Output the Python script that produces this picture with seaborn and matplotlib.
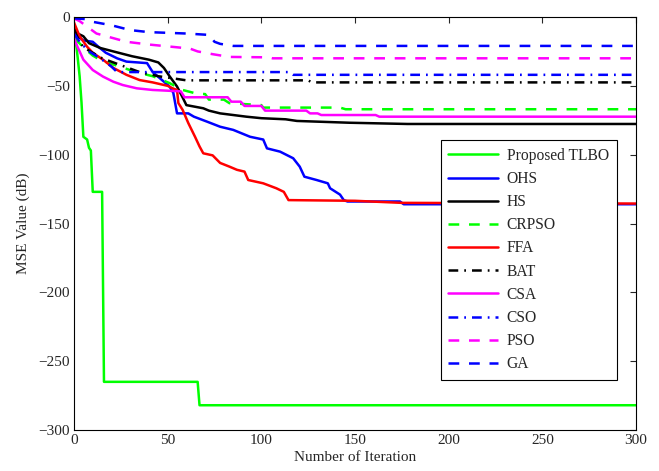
import matplotlib
matplotlib.use("Agg")
import matplotlib.pyplot as plt
import seaborn as sns
import pandas as pd

# Convergence curves: best MSE (dB) versus iteration, as breakpoints
tlbo_x = [0, 1, 2, 3, 4, 5, 7, 8, 9, 10, 15, 16, 66, 67, 300]
tlbo_y = [-8, -18, -30, -43, -62, -87, -89, -95, -97, -127, -127, -265, -265, -282, -282]

ohs_x = [0, 3, 5, 10, 13, 17, 23, 28, 39, 42, 51, 53, 55, 61, 64, 71, 78, 85, 94, 101, 103,
         110, 117, 120.5, 123, 129.5, 135.5, 136.7, 142, 144, 146, 174, 176, 300]
ohs_y = [-12, -15, -17, -18, -21.6, -26, -30, -32.4, -33.5, -40, -50.5, -55, -70, -70, -72.4,
         -76, -79.7, -82, -87, -89, -95.4, -97.8, -102.6, -108.7, -116, -118.4, -120.8,
         -124.4, -129, -133, -134, -134, -136, -136]

hs_x = [0, 2, 5, 8, 14, 21, 31, 40, 45, 48, 51, 55, 58, 60, 69, 72, 78, 92, 100, 113, 119,
        147, 178, 300]
hs_y = [-8, -12, -14, -19, -22.5, -25, -28.5, -31, -33, -37, -43, -50.5, -58.5, -64, -66.3,
        -68, -70, -72.4, -73.5, -74.3, -75.5, -76.8, -77.7, -77.7]

crpso_x = [0, 5, 10, 15, 24.5, 33, 42, 51, 58, 65, 70, 72, 80, 83, 100, 101, 142, 145, 300]
crpso_y = [-15, -22, -28, -32, -36, -40, -43, -48, -53, -55.5, -56, -60, -60, -62.6, -64,
           -65.8, -65.8, -67, -67]

ffa_x = [0, 3, 7, 10, 15.5, 21, 28, 35, 42, 50, 53, 55, 55.7, 58, 61, 64.6, 67, 69, 74, 78,
         83, 87, 91, 93, 101, 108, 112, 114.5, 150, 175, 300]
ffa_y = [-4, -14, -21.6, -26, -31, -37, -42, -45.8, -47.5, -50, -52, -53, -62.5, -67.5, -77,
         -87, -94, -99, -100.5, -106, -108.7, -111, -112.3, -118.4, -120.8, -124.4, -127,
         -133, -133.5, -135, -135.5]

bat_x = [0, 2, 5, 10, 15, 25, 35, 45, 60, 125, 127, 300]
bat_y = [-10, -15, -22, -26, -30, -35, -40, -43, -46, -46, -47.5, -47.5]

csa_x = [0, 1, 5, 10, 15.5, 21, 26, 33.5, 42, 57, 59, 82, 84, 89, 91, 100, 102, 124, 126,
         130, 132, 161, 163, 300]
csa_y = [-15, -19, -31, -38.5, -43.3, -47, -49.4, -51.8, -53, -54, -58.3, -58.3, -61.5,
         -61.5, -64.6, -64.6, -68, -68, -70, -70, -71.2, -71.2, -72.4, -72.4]

cso_x = [0, 3, 8, 14, 20, 23, 115, 117, 300]
cso_y = [-12, -18, -25, -30, -36, -40, -40, -42, -42]

pso_x = [0, 3, 8, 12, 20, 28, 40, 55, 62, 66, 74, 83, 104, 106, 300]
pso_y = [-1, -3, -8, -12, -15, -18, -20, -22, -23, -25, -27, -29, -29.3, -30, -30]

ga_x = [0, 6, 10, 20, 30, 40, 60, 72, 75, 78, 85, 300]
ga_y = [-1, -1.5, -3.5, -6, -9.5, -11, -12, -13, -18, -19.5, -21, -21]

algorithms = ["Proposed TLBO", "OHS", "HS", "CRPSO", "FFA", "BAT", "CSA", "CSO", "PSO", "GA"]
series = [(tlbo_x, tlbo_y), (ohs_x, ohs_y), (hs_x, hs_y), (crpso_x, crpso_y), (ffa_x, ffa_y),
          (bat_x, bat_y), (csa_x, csa_y), (cso_x, cso_y), (pso_x, pso_y), (ga_x, ga_y)]

colors = ["#00ff00", "#0000ff", "#000000", "#00ff00", "#ff0000",
          "#000000", "#ff00ff", "#0000ff", "#ff00ff", "#0000ff"]
dash = (0, (4.3, 3.9))
dashdot = (0, (3.9, 2.4, 0.7, 2.4))
styles = ["-", "-", "-", dash, "-", dashdot, "-", dashdot, dash, dash]

sns.set_style("white")
plt.rcParams["font.family"] = ["Liberation Serif", "DejaVu Serif"]

fig = plt.figure(figsize=(6.59, 4.71), dpi=100)
ax = fig.add_axes([0.1123, 0.0870, 0.8528, 0.8769])

for name, (xs, ys), c, ls in zip(algorithms, series, colors, styles):
    df = pd.DataFrame({"Iteration": xs, "MSE": ys})
    sns.lineplot(data=df, x="Iteration", y="MSE", ax=ax, color=c, linestyle=ls,
                 linewidth=1.8, sort=False, estimator=None, label=name)

ax.set_xlim(0, 300)
ax.set_ylim(-300, 0)
ax.set_xticks(range(0, 301, 50))
ax.set_yticks(range(-300, 1, 50))
ax.set_xlabel("Number of Iteration", fontsize=11, labelpad=3)
ax.set_ylabel("MSE Value (dB)", fontsize=11, labelpad=6)
ax.tick_params(direction="in", length=4, width=0.8, labelsize=11,
               top=True, right=True, pad=3)
for sp in ax.spines.values():
    sp.set_visible(True)
    sp.set_color("black")
    sp.set_linewidth(0.8)

leg = ax.legend(loc="upper right", bbox_to_anchor=(0.9656, 0.702), fontsize=11.2,
                frameon=True, fancybox=False, framealpha=1, edgecolor="black",
                handlelength=3.2, handletextpad=0.55, labelspacing=0.46,
                borderpad=0.5, borderaxespad=0)
leg.get_frame().set_linewidth(0.8)

fig.savefig("out.png", dpi=100)
